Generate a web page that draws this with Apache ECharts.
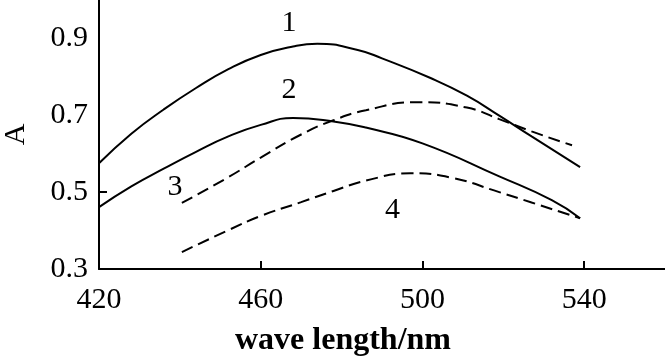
<!DOCTYPE html>
<html>
<head>
<meta charset="utf-8">
<script src="https://cdn.jsdelivr.net/npm/echarts@6/dist/echarts.min.js"></script>
<style>html,body{margin:0;padding:0;background:#fff}#c{width:665px;height:359px}</style>
</head>
<body>
<div id="c"></div>
<script>
// Data
const curve1X = [420, 428, 436, 444, 452, 460, 468, 474, 484, 490, 502, 511, 519, 527, 539];
const curve1Y = [0.575, 0.652, 0.715, 0.771, 0.820, 0.857, 0.879, 0.886, 0.870, 0.848, 0.797, 0.751, 0.699, 0.645, 0.565];
const curve2X = [420, 428, 436, 444, 452, 460, 468, 478, 486, 500, 519, 532, 539];
const curve2Y = [0.461, 0.515, 0.561, 0.605, 0.645, 0.675, 0.693, 0.684, 0.668, 0.627, 0.541, 0.479, 0.432];
const curve3X = [440.5, 452, 460, 470, 478, 486, 498.5, 511, 519, 527, 537];
const curve3Y = [0.472, 0.539, 0.590, 0.650, 0.687, 0.713, 0.734, 0.720, 0.690, 0.658, 0.622];
const curve4X = [440.5, 452, 460, 470, 478, 486, 497, 507, 519, 527, 539];
const curve4Y = [0.344, 0.401, 0.438, 0.474, 0.503, 0.530, 0.549, 0.538, 0.500, 0.473, 0.432];
const curveNames = ['1', '2', '3', '4'];
const curveLabelX = [467, 467, 438.8, 492.6];
const curveLabelY = [0.939, 0.765, 0.513, 0.453];
const xTickLabels = [420, 460, 500, 540];
const xTicks = [460, 500, 540];
const yTickLabels = [0.3, 0.5, 0.7, 0.9];
const yTicks = [0.5];
const xName = 'wave length/nm';
const yName = 'A';

const FONT = '"Liberation Serif", "DejaVu Serif", serif';
const zip = (xs, ys) => xs.map((x, i) => [x, ys[i]]);

function makeSeries(name, xs, ys, dashed, idx) {
  return {
    name: name,
    type: 'line',
    data: zip(xs, ys),
    smooth: 0.5,
    symbol: 'none',
    lineStyle: { color: '#000', width: 2, type: dashed ? [12, 6] : 'solid' },
    markPoint: {
      symbol: 'circle',
      symbolSize: 0,
      data: [{ coord: [curveLabelX[idx], curveLabelY[idx]], value: name }],
      label: {
        show: true, formatter: name, color: '#000',
        fontFamily: FONT, fontSize: 30, position: 'inside'
      }
    }
  };
}

const chart = echarts.init(document.getElementById('c'), null, { renderer: 'canvas' });
chart.setOption({
  animation: false,
  backgroundColor: '#fff',
  grid: { left: 99, right: 0, top: 0, bottom: 90, containLabel: false, outerBoundsMode: 'none' },
  xAxis: {
    type: 'value', min: 420, max: 560,
    name: xName, nameLocation: 'middle', nameGap: 56,
    nameTextStyle: { fontFamily: FONT, fontSize: 32, fontWeight: 'bold', color: '#000', padding: [0, 78, 0, 0] },
    axisLine: { lineStyle: { color: '#000', width: 2 } },
    axisTick: { show: true, inside: true, length: 8, customValues: xTicks, lineStyle: { color: '#000', width: 2 } },
    axisLabel: { customValues: xTickLabels, fontFamily: FONT, fontSize: 30, color: '#000', margin: 16 },
    splitLine: { show: false }
  },
  yAxis: {
    type: 'value', min: 0.3, max: 1.0,
    name: yName, nameLocation: 'middle', nameGap: 68, nameRotate: 90,
    nameTextStyle: { fontFamily: FONT, fontSize: 30, color: '#000' },
    axisLine: { show: true, lineStyle: { color: '#000', width: 2 } },
    axisTick: { show: true, inside: true, length: 8, customValues: yTicks, lineStyle: { color: '#000', width: 2 } },
    axisLabel: { customValues: yTickLabels, fontFamily: FONT, fontSize: 30, color: '#000', margin: 11,
      formatter: v => v.toFixed(1) },
    splitLine: { show: false }
  },
  series: [
    makeSeries(curveNames[0], curve1X, curve1Y, false, 0),
    makeSeries(curveNames[1], curve2X, curve2Y, false, 1),
    makeSeries(curveNames[2], curve3X, curve3Y, true, 2),
    makeSeries(curveNames[3], curve4X, curve4Y, true, 3)
  ]
});
</script>
</body>
</html>
